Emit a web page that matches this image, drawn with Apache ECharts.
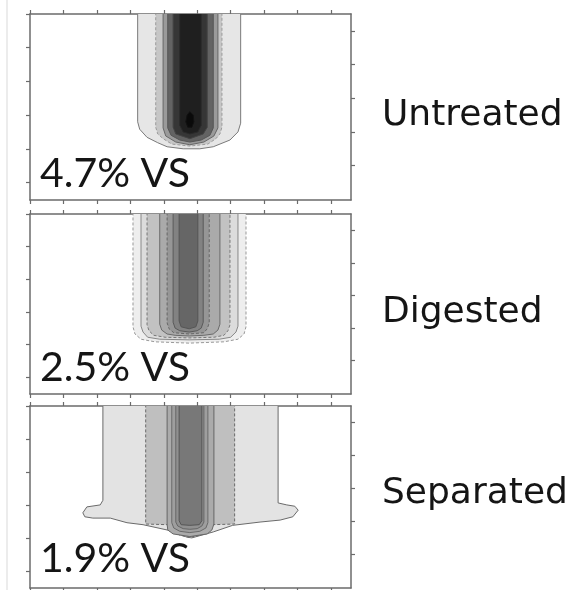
<!DOCTYPE html>
<html><head><meta charset="utf-8">
<script src="https://cdn.jsdelivr.net/npm/echarts@6/dist/echarts.min.js"></script>
<style>html,body{margin:0;padding:0;background:#fff}#c{width:581px;height:590px}</style>
</head><body><div id="c"></div>
<script>
// ---- data ----
const panelNames = ['Untreated', 'Digested', 'Separated'];
const vsLabels = ['4.7% VS', '2.5% VS', '1.9% VS'];
const xTicks = [0, 5, 10, 15, 20, 25, 30, 35, 40, 45];
const yTicksLeft = [0, 5, 10, 15, 20, 25];
const yTicksRight = [2.5, 7.5, 12.5, 17.5, 22.5];

// contour outlines, outermost level first, [x, depth]
const untreatedContours = [
  [[16.1,-1],[16.1,16.0],[16.4,17.1],[17.5,18.3],[19.1,19.1],[20.5,19.7],[22.9,20.0],[25.4,20.0],[27.4,19.7],[29.9,18.7],[31.1,17.5],[31.5,16.2],[31.5,-1]],
  [[18.8,-1],[18.8,16.8],[19.1,17.8],[19.9,18.5],[21.2,19.3],[23.9,19.6],[26.6,19.3],[27.8,18.5],[28.4,17.8],[28.7,16.8],[28.7,-1]],
  [[19.9,-1],[19.9,16.9],[20.3,18.1],[21.8,19.0],[23.9,19.4],[26.0,19.0],[27.5,18.1],[28.1,16.9],[28.1,-1]],
  [[20.6,-1],[20.6,16.9],[21.1,18.0],[22.4,18.7],[23.9,19.0],[25.6,18.7],[26.9,18.0],[27.4,16.9],[27.4,-1]],
  [[21.4,-1],[21.4,16.8],[21.8,17.8],[23.9,18.5],[25.9,17.8],[26.5,16.8],[26.5,-1]],
  [[22.4,-1],[22.4,16.5],[22.9,17.5],[23.9,17.8],[25.1,17.5],[25.6,16.5],[25.6,-1]],
  [[23.5,15.0],[23.3,16.0],[23.6,16.8],[24.2,16.8],[24.5,16.0],[24.4,15.0],[23.9,14.5]]
];
const digestedContours = [
  [[15.4,-1],[15.4,17.3],[15.7,18.4],[16.6,19.2],[18.7,19.6],[23.8,19.8],[29.0,19.6],[31.1,19.2],[32.0,18.4],[32.3,17.3],[32.3,-1]],
  [[16.6,-1],[16.6,17.2],[16.9,18.1],[17.6,18.9],[19.4,19.2],[23.8,19.3],[28.3,19.2],[30.0,18.9],[30.8,18.1],[31.1,17.2],[31.1,-1]],
  [[17.5,-1],[17.5,17.0],[17.8,17.9],[18.5,18.6],[20.2,18.9],[23.8,19.0],[27.5,18.9],[29.0,18.6],[29.6,17.9],[29.9,17.0],[29.9,-1]],
  [[19.4,-1],[19.4,16.9],[19.7,17.8],[20.5,18.4],[21.7,18.6],[23.8,18.7],[26.0,18.6],[27.4,18.4],[28.1,17.8],[28.4,16.9],[28.4,-1]],
  [[20.5,-1],[20.5,16.7],[20.8,17.6],[21.5,18.2],[23.8,18.4],[26.0,18.2],[26.5,17.6],[26.8,16.7],[26.8,-1]],
  [[21.4,-1],[21.4,16.6],[21.7,17.5],[22.4,17.9],[23.8,18.1],[25.0,17.9],[25.6,17.5],[25.9,16.6],[25.9,-1]],
  [[22.3,-1],[22.3,16.4],[22.6,17.3],[23.8,17.6],[24.8,17.3],[25.1,16.4],[25.1,-1]]
];
const separatedContours = [
  [[10.9,-1],[10.9,14.3],[10.5,15.0],[8.5,15.3],[7.9,16.2],[8.2,16.8],[9.4,17.0],[12.0,17.0],[14.5,17.7],[16.9,18.0],[20.5,18.8],[23.5,19.9],[24.2,20.0],[27.4,19.1],[30.3,18.1],[34.4,17.6],[37.4,17.3],[39.3,16.8],[40.1,15.8],[39.6,15.2],[38.4,15.0],[37.1,14.7],[37.1,-1]],
  [[17.3,-1],[17.3,17.9],[20.6,18.0],[21.2,18.8],[22.4,19.6],[23.9,19.9],[25.4,19.6],[26.6,18.8],[27.2,18.0],[30.6,17.9],[30.6,-1]],
  [[20.5,-1],[20.5,17.9],[20.6,18.8],[21.4,19.4],[23.9,19.8],[26.5,19.4],[27.2,18.8],[27.5,17.9],[27.5,-1]],
  [[21.2,-1],[21.2,17.7],[21.5,18.5],[22.4,19.0],[23.9,19.2],[25.4,19.0],[26.3,18.5],[26.6,17.7],[26.6,-1]],
  [[21.8,-1],[21.8,17.6],[22.1,18.2],[22.9,18.6],[23.9,18.7],[25.0,18.6],[25.7,18.2],[26.0,17.6],[26.0,-1]],
  [[22.3,-1],[22.3,17.4],[22.6,18.0],[23.9,18.1],[25.3,18.0],[25.7,17.4],[25.7,-1]]
];
const panelContours = [untreatedContours, digestedContours, separatedContours];

// ---- styles ----
const grids = [
  { left: 30, top: 14, width: 321, height: 186 },
  { left: 30, top: 214, width: 321, height: 180 },
  { left: 30, top: 406, width: 321, height: 182 }
];
const fills = [
  ['#e6e6e6', '#c6c6c6', '#9a9a9a', '#636363', '#363636', '#1f1f1f', '#0a0a0a'],
  ['#eeeeee', '#dcdcdc', '#c2c2c2', '#aaaaaa', '#969696', '#828282', '#666666'],
  ['#e3e3e3', '#bfbfbf', '#ababab', '#9e9e9e', '#909090', '#787878']
];
const strokes = [
  ['#7a7a7a', '#9a9a9a', '#666', '#555', '#444', '#2a2a2a', '#111'],
  ['#999', '#888', '#777', '#6a6a6a', '#666', '#5a5a5a', '#555'],
  ['#6a6a6a', '#6a6a6a', '#666', '#6a6a6a', '#666', '#555']
];
const dashed = [
  [false, true, false, false, false, false, false],
  [true, false, true, false, true, false, false],
  [false, true, false, false, false, false]
];
const axisColor = '#6b6b6b';
const fontRight = '"DejaVu Sans", sans-serif';
const fontInner = 'Lato, "DejaVu Sans", sans-serif';

function baseAxis(extra) {
  return Object.assign({
    type: 'value',
    axisLine: { show: true, onZero: false, lineStyle: { color: axisColor, width: 1.5 } },
    axisLabel: { show: false },
    splitLine: { show: false }
  }, extra);
}

const xAxes = [], yAxes = [], series = [];
grids.forEach((g, i) => {
  ['bottom', 'top'].forEach(pos => xAxes.push(baseAxis({
    gridIndex: i, position: pos, min: 0, max: 48,
    axisTick: { show: true, length: 4, customValues: xTicks, lineStyle: { color: axisColor, width: 1.2 } }
  })));
  yAxes.push(baseAxis({
    gridIndex: i, position: 'left', min: 0, max: 27.6, inverse: true,
    axisTick: { show: true, length: 4, customValues: yTicksLeft, lineStyle: { color: axisColor, width: 1.2 } }
  }));
  yAxes.push(baseAxis({
    gridIndex: i, position: 'right', min: 0, max: 27.6, inverse: true,
    axisTick: { show: true, length: 4, customValues: yTicksRight, lineStyle: { color: axisColor, width: 1.2 } }
  }));
  const contours = panelContours[i];
  series.push({
    type: 'custom',
    coordinateSystem: 'cartesian2d',
    xAxisIndex: i * 2,
    yAxisIndex: i * 2,
    clip: true,
    silent: true,
    data: contours.map((c, k) => [c[1][0], c[1][1], k]),
    encode: { x: 0, y: 1 },
    renderItem: (params, api) => {
      const k = params.dataIndex;
      const pts = contours[k].map(p => api.coord(p));
      return {
        type: 'polygon',
        shape: { points: pts },
        style: {
          fill: fills[i][k],
          stroke: strokes[i][k],
          lineWidth: 1,
          lineDash: dashed[i][k] ? [3, 2] : null
        }
      };
    }
  });
});

const innerY = [173.5, 367.5, 558.5];
const rightY = [116, 312.5, 494];
const graphic = [
  { type: 'line', shape: { x1: 7, y1: 0, x2: 7, y2: 590 }, style: { stroke: '#ececec', lineWidth: 2 }, silent: true }
];
vsLabels.forEach((t, i) => graphic.push({
  type: 'text', x: 40, y: innerY[i], silent: true, z: 100,
  style: { text: t, fontSize: 41, fontFamily: fontInner, fill: '#151515', textAlign: 'left', textVerticalAlign: 'middle', verticalAlign: 'middle' }
}));
panelNames.forEach((t, i) => graphic.push({
  type: 'text', x: 382, y: rightY[i], silent: true, z: 100,
  style: { text: t, fontSize: 36, fontFamily: fontRight, fill: '#151515', textAlign: 'left', textVerticalAlign: 'middle', verticalAlign: 'middle' }
}));

const chart = echarts.init(document.getElementById('c'), null, { renderer: 'canvas' });
chart.setOption({
  animation: false,
  backgroundColor: '#fff',
  grid: grids.map(g => Object.assign({ containLabel: false }, g)),
  xAxis: xAxes,
  yAxis: yAxes,
  series: series,
  graphic: graphic
});
</script></body></html>
